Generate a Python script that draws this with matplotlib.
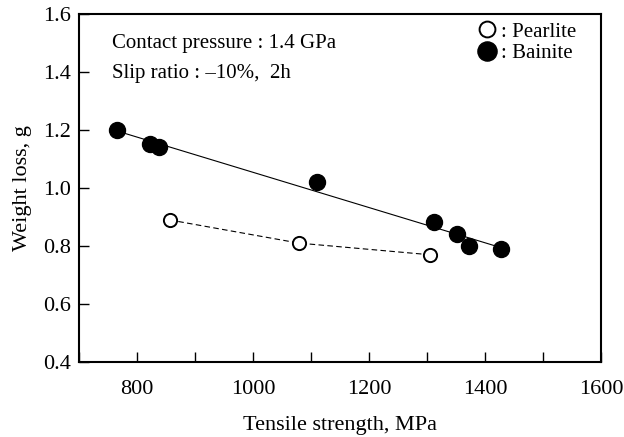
import numpy as np
import matplotlib
matplotlib.use('Agg')
import matplotlib.pyplot as plt
from matplotlib.ticker import MultipleLocator

plt.rcParams['font.family'] = ['Liberation Serif', 'DejaVu Serif']

# Data
bainite_ts = [766, 822, 838, 1110, 1311, 1351, 1372, 1428]
bainite_wl = [1.200, 1.152, 1.140, 1.021, 0.882, 0.841, 0.800, 0.790]
pearlite_ts = [856, 1079, 1304]
pearlite_wl = [0.890, 0.810, 0.770]

x_ticks = [800, 1000, 1200, 1400, 1600]
y_ticks = [0.4, 0.6, 0.8, 1.0, 1.2, 1.4, 1.6]

fig = plt.figure(figsize=(6.24, 4.37), dpi=100)
ax = fig.add_axes([0.1266, 0.1716, 0.837, 0.7963])

# regression line for bainite
k, b = np.polyfit(bainite_ts, bainite_wl, 1)
xf = np.array([min(bainite_ts), max(bainite_ts)])
ax.plot(xf, k * xf + b, color='black', lw=0.8, zorder=2)
ax.plot(pearlite_ts, pearlite_wl, color='black', lw=0.8,
        dashes=(5, 3), zorder=2)

ax.plot(bainite_ts, bainite_wl, 'o', color='black', ms=11.5,
        label=': Bainite', zorder=3)
ax.plot(pearlite_ts, pearlite_wl, 'o', mfc='white', mec='black', mew=1.4,
        ms=9.5, zorder=3, label=': Pearlite')

ax.set_xlim(700, 1600)
ax.set_ylim(0.4, 1.6)
ax.set_xticks(x_ticks)
ax.xaxis.set_minor_locator(MultipleLocator(100))
ax.set_yticks(y_ticks)
ax.set_yticklabels(['%.1f' % v for v in y_ticks])
ax.tick_params(axis='x', which='both', direction='in', length=7, width=1,
               labelsize=16, pad=13, top=False)
ax.tick_params(axis='y', which='both', direction='in', length=7, width=1,
               labelsize=16, pad=6, right=False)
for s in ax.spines.values():
    s.set_linewidth(1.5)

ax.set_xlabel('Tensile strength, MPa', fontsize=16, labelpad=12)
ax.set_ylabel('Weight loss, g', fontsize=16, labelpad=8)

ax.text(0.063, 0.915, 'Contact pressure : 1.4 GPa', transform=ax.transAxes,
        fontsize=15, va='center')
ax.text(0.063, 0.83, 'Slip ratio : \u201310%,  2h', transform=ax.transAxes,
        fontsize=15, va='center')

h, l = ax.get_legend_handles_labels()
ax.legend(h[::-1], l[::-1], loc='upper left', bbox_to_anchor=(0.736, 1.025),
          frameon=False, fontsize=15, handlelength=0.7, markerscale=1.2,
          handletextpad=0.3, labelspacing=0.1, borderpad=0.3)

fig.savefig('out.png', dpi=100)
print('Plot done')
